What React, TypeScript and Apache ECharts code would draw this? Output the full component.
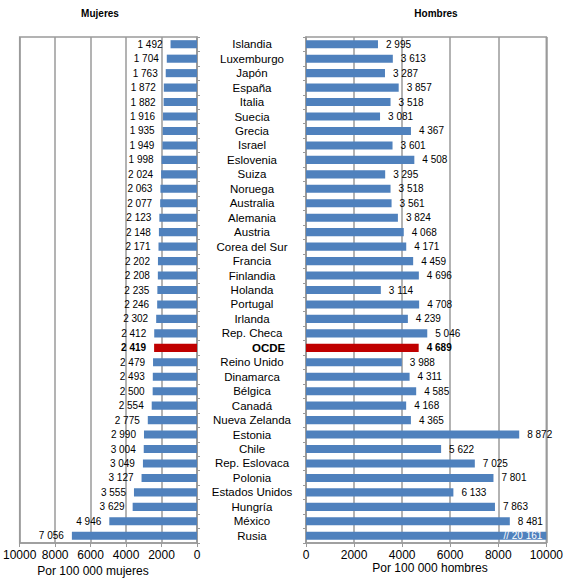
import React, { useEffect, useRef } from "react";
import * as echarts from "echarts";

const countries = [
  "Islandia", "Luxemburgo", "Japón", "España", "Italia", "Suecia", "Grecia", "Israel",
  "Eslovenia", "Suiza", "Noruega", "Australia", "Alemania", "Austria", "Corea del Sur",
  "Francia", "Finlandia", "Holanda", "Portugal", "Irlanda", "Rep. Checa", "OCDE",
  "Reino Unido", "Dinamarca", "Bélgica", "Canadá", "Nueva Zelanda", "Estonia", "Chile",
  "Rep. Eslovaca", "Polonia", "Estados Unidos", "Hungría", "México", "Rusia",
];

const mujeres = [
  1492, 1704, 1763, 1872, 1882, 1916, 1935, 1949, 1998, 2024, 2063, 2077, 2123, 2148,
  2171, 2202, 2208, 2235, 2246, 2302, 2412, 2419, 2479, 2493, 2500, 2554, 2775, 2990,
  3004, 3049, 3127, 3555, 3629, 4946, 7056,
];

const hombres = [
  2995, 3613, 3287, 3857, 3518, 3081, 4367, 3601, 4508, 3295, 3518, 3561, 3824, 4068,
  4171, 4459, 4696, 3114, 4708, 4239, 5046, 4689, 3988, 4311, 4585, 4168, 4365, 8872,
  5622, 7025, 7801, 6133, 7863, 8481, 20161,
];

const AXIS_MAX = 10000;
const AXIS_STEP = 2000;
const HIGHLIGHT = "OCDE";

const BLUE = "#4F81BD";
const RED = "#C00000";
const GRID = "#9a9a9a";
const FONT = "Liberation Sans, Arial, sans-serif";

const fmt = (n: number) => String(n).replace(/\B(?=(\d{3})+(?!\d))/g, " ");

export default function App() {
  const ref = useRef<HTMLDivElement>(null);

  useEffect(() => {
    if (!ref.current) return;
    const chart = echarts.init(ref.current, undefined, { renderer: "svg" });

    const mkData = (vals: number[]) =>
      vals.map((v, i) => {
        const hl = countries[i] === HIGHLIGHT;
        const over = v > AXIS_MAX;
        return {
          value: Math.min(v, AXIS_MAX),
          itemStyle: { color: hl ? RED : BLUE },
          label: over
            ? {
                position: "insideRight",
                color: "#ffffff",
                distance: 4,
                formatter: "// " + fmt(v),
              }
            : {
                fontWeight: hl ? "bold" : "normal",
                formatter: fmt(v),
              },
        };
      });

    const axisLabelStyle = {
      fontFamily: FONT, fontSize: 12, color: "#000", margin: 6,
      formatter: (v: number) => String(v),
    };

    chart.setOption({
      animation: false,
      textStyle: { fontFamily: FONT },
      grid: [
        {
          left: 17, right: 369, top: 37, bottom: 35,
          show: true, borderColor: GRID, borderWidth: 1.5, backgroundColor: "transparent",
        },
        {
          left: 306, right: 14, top: 37, bottom: 35,
          show: true, borderColor: GRID, borderWidth: 1.5, backgroundColor: "transparent",
        },
      ],
      xAxis: [
        {
          gridIndex: 0, type: "value", inverse: true, min: 0, max: AXIS_MAX, interval: AXIS_STEP,
          axisLine: { show: true, lineStyle: { color: GRID, width: 1.5 } },
          axisTick: { show: true, length: 4, lineStyle: { color: GRID } },
          splitLine: { show: true, lineStyle: { color: GRID, width: 1.5 } },
          axisLabel: axisLabelStyle,
        },
        {
          gridIndex: 1, type: "value", min: 0, max: AXIS_MAX, interval: AXIS_STEP,
          axisLine: { show: true, lineStyle: { color: GRID, width: 1.5 } },
          axisTick: { show: true, length: 4, lineStyle: { color: GRID } },
          splitLine: { show: true, lineStyle: { color: GRID, width: 1.5 } },
          axisLabel: axisLabelStyle,
        },
      ],
      yAxis: [
        {
          gridIndex: 0, type: "category", inverse: true, position: "right",
          data: countries.map((c) =>
            c === HIGHLIGHT ? { value: c, textStyle: { fontWeight: "bold" } } : c
          ),
          axisLine: { show: true, lineStyle: { color: GRID, width: 1.5 } },
          axisTick: { show: true, length: 3, interval: 0, lineStyle: { color: GRID } },
          axisLabel: {
            interval: 0,
            fontFamily: FONT, fontSize: 11.5, color: "#000", align: "center", margin: 55,
          },
        },
        {
          gridIndex: 1, type: "category", inverse: true, position: "left",
          data: countries,
          axisLine: { show: true, lineStyle: { color: GRID, width: 1.5 } },
          axisTick: { show: true, length: 3, interval: 0, lineStyle: { color: GRID } },
          axisLabel: { show: false, interval: 0 },
        },
      ],
      series: [
        {
          type: "bar", xAxisIndex: 0, yAxisIndex: 0, barCategoryGap: "44%",
          data: mkData(mujeres),
          label: {
            show: true, position: "left", distance: 8,
            fontFamily: FONT, fontSize: 10, color: "#000",
          },
        },
        {
          type: "bar", xAxisIndex: 1, yAxisIndex: 1, barCategoryGap: "44%",
          data: mkData(hombres),
          label: {
            show: true, position: "right", distance: 8,
            fontFamily: FONT, fontSize: 10, color: "#000",
          },
        },
      ],
      graphic: [
        {
          type: "text",
          x: 100, y: 13,
          style: { text: "Mujeres", font: `bold 10px ${FONT}`, fill: "#000", align: "center", verticalAlign: "middle" },
        },
        {
          type: "text",
          x: 436, y: 13,
          style: { text: "Hombres", font: `bold 10px ${FONT}`, fill: "#000", align: "center", verticalAlign: "middle" },
        },
        {
          type: "text",
          x: 93, y: 571,
          style: { text: "Por 100 000 mujeres", font: `12px ${FONT}`, fill: "#000", align: "center", verticalAlign: "middle" },
        },
        {
          type: "text",
          x: 430, y: 568,
          style: { text: "Por 100 000 hombres", font: `12px ${FONT}`, fill: "#000", align: "center", verticalAlign: "middle" },
        },
      ],
    });

    return () => chart.dispose();
  }, []);

  return <div ref={ref} style={{ width: 566, height: 578, position: "absolute", left: 0, top: 0 }} />;
}
